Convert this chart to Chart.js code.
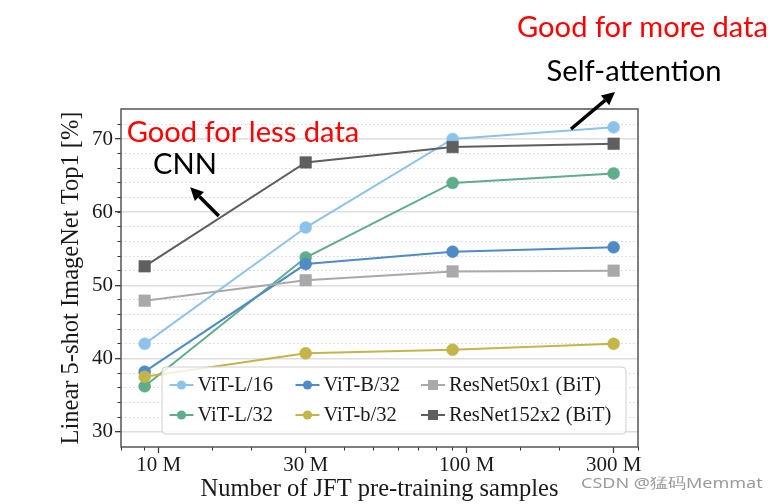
<!DOCTYPE html>
<html><head><meta charset="utf-8">
<script src="https://cdn.jsdelivr.net/npm/chart.js@4.4.0/dist/chart.umd.min.js"></script>
<style>html,body{margin:0;padding:0;background:#fff;} canvas{display:block;}</style>
</head><body>
<canvas id="c" width="781" height="504"></canvas>
<script>
// ---- data ----
const samples = [9, 30, 90, 300]; // JFT subset size, millions
const xTickValues = [10, 30, 100, 300];
const xTickLabels = ['10 M', '30 M', '100 M', '300 M'];
const yTickValues = [30, 40, 50, 60, 70];
const seriesNames = ['ViT-L/16', 'ViT-L/32', 'ViT-B/32', 'ViT-b/32', 'ResNet50x1 (BiT)', 'ResNet152x2 (BiT)'];
const vitL16 = [42.0, 57.9, 70.0, 71.6];
const vitL32 = [36.2, 53.8, 64.0, 65.3];
const vitB32 = [38.2, 52.9, 54.6, 55.2];
const vitb32 = [37.5, 40.7, 41.2, 42.0];
const resnet50x1 = [47.9, 50.7, 51.9, 52.0];
const resnet152x2 = [52.6, 66.8, 68.9, 69.35];

// ---- styles ----
const seriesValues = [vitL16, vitL32, vitB32, vitb32, resnet50x1, resnet152x2];
const seriesColors = ['#8dc3ea', '#5fad8a', '#4f8bc5', '#c3b54a', '#a9a9a9', '#5f5f5f'];
const seriesMarkers = ['circle', 'circle', 'circle', 'circle', 'rect', 'rect'];
const SERIF = '"Liberation Serif", "DejaVu Serif", serif';
const SANS = 'Lato, "Noto Sans", sans-serif';

const datasets = seriesValues.map((vals, i) => ({
  label: seriesNames[i],
  data: samples.map((s, j) => ({ x: s, y: vals[j] })),
  borderColor: seriesColors[i],
  backgroundColor: seriesColors[i],
  pointBackgroundColor: seriesColors[i],
  pointBorderColor: seriesColors[i],
  pointStyle: seriesMarkers[i],
  pointRadius: seriesMarkers[i] === 'rect' ? 8.2 : 6,
  pointBorderWidth: 0.5,
  borderWidth: 2,
  tension: 0,
  order: seriesValues.length - i
}));

function drawArrow(ctx, x1, y1, x2, y2) {
  const ang = Math.atan2(y2 - y1, x2 - x1);
  const hl = 13, hw = 6.5;
  const bx = x2 - hl * Math.cos(ang), by = y2 - hl * Math.sin(ang);
  ctx.save();
  ctx.strokeStyle = '#000'; ctx.fillStyle = '#000'; ctx.lineWidth = 3.5;
  ctx.beginPath(); ctx.moveTo(x1, y1); ctx.lineTo(bx, by); ctx.stroke();
  ctx.beginPath();
  ctx.moveTo(x2, y2);
  ctx.lineTo(bx + hw * Math.sin(ang), by - hw * Math.cos(ang));
  ctx.lineTo(bx - hw * Math.sin(ang), by + hw * Math.cos(ang));
  ctx.closePath(); ctx.fill();
  ctx.restore();
}

function stretchedText(ctx, text, cx, cy, sx) {
  ctx.save();
  ctx.translate(cx, cy);
  ctx.scale(sx, 1);
  ctx.fillText(text, 0, 0);
  ctx.restore();
}

const legendPlugin = {
  id: 'insideLegend',
  afterDatasetsDraw(chart) {
    const ctx = chart.ctx;
    const ca = chart.chartArea;
    const bx = ca.left + 41, by = ca.bottom - 80, bw = ca.right - 12 - bx, bh = 67;
    ctx.save();
    ctx.fillStyle = 'rgba(255,255,255,0.82)';
    ctx.strokeStyle = '#d0d0d0';
    ctx.lineWidth = 1;
    ctx.beginPath();
    ctx.roundRect(bx, by, bw, bh, 4);
    ctx.fill(); ctx.stroke();
    const colX = [bx + 7.5, bx + 133.5, bx + 259];
    const rowY = [by + 18, by + 48];
    ctx.font = '20.5px ' + SERIF;
    ctx.textBaseline = 'middle';
    ctx.textAlign = 'left';
    chart.data.datasets.forEach((ds, i) => {
      const x = colX[Math.floor(i / 2)], y = rowY[i % 2];
      ctx.strokeStyle = ds.borderColor; ctx.lineWidth = 2;
      ctx.beginPath(); ctx.moveTo(x, y); ctx.lineTo(x + 24, y); ctx.stroke();
      ctx.fillStyle = ds.borderColor;
      if (ds.pointStyle === 'rect') { ctx.fillRect(x + 12 - 5, y - 5, 10, 10); }
      else { ctx.beginPath(); ctx.arc(x + 12, y, 4.6, 0, Math.PI * 2); ctx.fill(); }
      ctx.fillStyle = '#1a1a1a';
      ctx.fillText(ds.label, x + 28, y + 1);
    });
    ctx.restore();
  },
  afterDraw(chart) {
    const ctx = chart.ctx;
    const ca = chart.chartArea;
    ctx.save();
    ctx.strokeStyle = '#555'; ctx.lineWidth = 1.5;
    ctx.strokeRect(ca.left, ca.top, ca.right - ca.left, ca.bottom - ca.top);
    ctx.textAlign = 'center'; ctx.textBaseline = 'middle';
    ctx.font = '28px ' + SANS;
    ctx.fillStyle = '#ff0000';
    stretchedText(ctx, 'Good for more data', 642.5, 28, 1.04);
    stretchedText(ctx, 'Good for less data', 243, 133, 1.04);
    ctx.fillStyle = '#000';
    stretchedText(ctx, 'Self-attention', 634, 72, 1.04);
    stretchedText(ctx, 'CNN', 185, 165, 1.04);
    drawArrow(ctx, 571, 129, 615, 92);
    drawArrow(ctx, 218.8, 216, 190.2, 187.3);
    ctx.font = '15px "Noto Sans", sans-serif';
    ctx.fillStyle = '#9a9a9a'; ctx.textAlign = 'left';
    stretchedText(ctx, 'CSDN @猛码Memmat', 581, 484, 1.2);
    ctx.restore();
  }
};

new Chart(document.getElementById('c'), {
  type: 'line',
  data: { datasets },
  plugins: [legendPlugin],
  options: {
    responsive: false,
    animation: false,
    layout: { padding: { left: 0, right: 143, top: 109, bottom: 0 } },
    plugins: { legend: { display: false }, tooltip: { enabled: false } },
    scales: {
      x: {
        type: 'logarithmic', position: 'bottom', weight: 1,
        min: 7.54, max: 360,
        afterBuildTicks: s => { s.ticks = xTickValues.map(v => ({ value: v })); },
        afterFit: s => { s.height = 57; },
        ticks: {
          autoSkip: false, maxRotation: 0, padding: 0, color: '#1a1a1a',
          font: { family: SERIF, size: 21 },
          callback: (v) => { const k = xTickValues.indexOf(v); return k >= 0 ? xTickLabels[k] : ''; }
        },
        grid: { drawOnChartArea: false, drawTicks: true, tickLength: 6, tickColor: '#333', tickWidth: 1.2 },
        border: { display: false },
        title: { display: true, text: 'Number of JFT pre-training samples', color: '#1a1a1a',
                 font: { family: SERIF, size: 24.5 }, padding: { top: 0, bottom: 0 } }
      },
      xMinor: {
        type: 'logarithmic', position: 'bottom', weight: 0,
        min: 7.54, max: 360,
        afterFit: s => { s.height = 0; },
        ticks: { display: false },
        grid: { drawOnChartArea: false, drawTicks: true, tickLength: 3.5, tickColor: '#333', tickWidth: 1 },
        border: { display: false }
      },
      y: {
        type: 'linear', position: 'left', weight: 1,
        min: 27.9, max: 74.1,
        afterBuildTicks: s => { s.ticks = yTickValues.map(v => ({ value: v })); },
        afterFit: s => { s.width = 121; },
        ticks: { autoSkip: false, padding: 2, color: '#1a1a1a', font: { family: SERIF, size: 21 } },
        grid: { color: '#dedede', lineWidth: 1.4, tickLength: 6, tickColor: '#333', tickWidth: 1.2 },
        border: { display: false },
        title: { display: true, text: 'Linear 5-shot ImageNet Top1 [%]', color: '#1a1a1a',
                 font: { family: SERIF, size: 24.5 }, padding: { top: 57, bottom: 0 } }
      },
      yMinor: {
        type: 'linear', position: 'left', weight: 0,
        min: 27.9, max: 74.1,
        afterFit: s => { s.width = 0; },
        ticks: { display: false, stepSize: 2 },
        grid: {
          color: ctx => (ctx.tick && ctx.tick.value % 10 !== 0 && Number.isInteger(ctx.tick.value)) ? '#d4d4d4' : 'rgba(0,0,0,0)',
          lineWidth: 1, tickLength: 3.5, tickWidth: 1,
          tickColor: ctx => (ctx.tick && Number.isInteger(ctx.tick.value)) ? '#333' : 'rgba(0,0,0,0)'
        },
        border: { display: false, dash: [1.5, 2.5] }
      }
    }
  }
});
</script>
</body></html>
